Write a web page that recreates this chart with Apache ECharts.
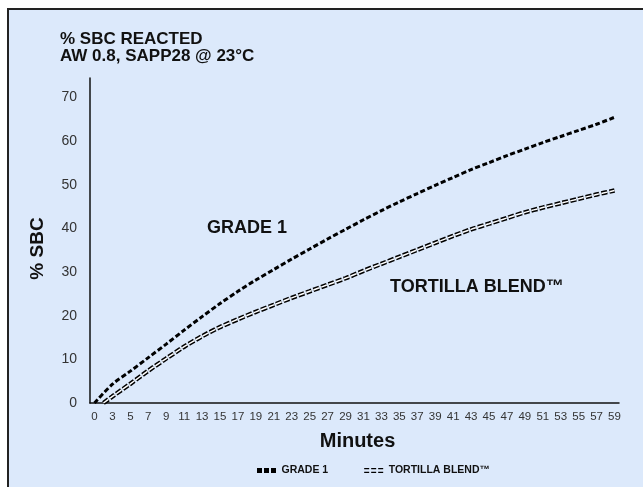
<!DOCTYPE html>
<html>
<head>
<meta charset="utf-8">
<script src="https://cdn.jsdelivr.net/npm/echarts@6/dist/echarts.min.js"></script>
<style>
  html, body { margin: 0; padding: 0; background: #fff; }
  #chart { width: 643px; height: 487px; }
</style>
</head>
<body>
<div id="chart"></div>
<script>
// minutes on the x axis (the sheet has no minute 1)
const minutes = ['0', '2', '3', '4', '5', '6', '7', '8', '9', '10', '11', '12', '13', '14', '15', '16', '17', '18', '19',
  '20', '21', '22', '23', '24', '25', '26', '27', '28', '29', '30', '31', '32', '33', '34', '35', '36', '37', '38', '39',
  '40', '41', '42', '43', '44', '45', '46', '47', '48', '49', '50', '51', '52', '53', '54', '55', '56', '57', '58', '59'];

// % SBC at the labelled minutes, null = not read
const grade1 = [0, null, 4.3, null, 7.3, null, 10.4, null, 13.5, null, 16.7, null, 19.8, null, 22.8, null, 25.6, null, 28.2,
  null, 30.6, null, 33.0, null, 35.3, null, 37.6, null, 39.8, null, 42.0, null, 44.1, null, 46.1, null, 48.0, null, 49.9,
  null, 51.7, null, 53.5, null, 55.1, null, 56.7, null, 58.2, null, 59.7, null, 61.1, null, 62.5, null, 63.9, null, 65.5];
const tortilla = [null, 0, 1.5, null, 4.4, null, 7.4, null, 10.2, null, 12.9, null, 15.3, null, 17.4, null, 19.2, null, 20.9,
  null, 22.5, null, 24.1, null, 25.6, null, 27.1, null, 28.6, null, 30.3, null, 31.9, null, 33.5, null, 35.1, null, 36.7,
  null, 38.3, null, 39.8, null, 41.1, null, 42.4, null, 43.7, null, 44.8, null, 45.8, null, 46.8, null, 47.8, null, 48.7];

const font = 'Liberation Sans, Arial, Helvetica, sans-serif';

let myChart = echarts.init(document.getElementById('chart'));
let option = {
  backgroundColor: '#fff',
  animation: false,
  title: {
    text: '% SBC REACTED\nAW 0.8, SAPP28 @ 23°C',
    left: 55,
    top: 26,
    textStyle: { fontFamily: font, fontSize: 17, fontWeight: 'bold', color: '#111', lineHeight: 17 }
  },
  graphic: [
    {
      type: 'rect', z: -10,
      shape: { x: 8, y: 9, width: 700, height: 600 },
      style: { fill: '#dce9fb', stroke: '#222', lineWidth: 2 }
    },
    {
      type: 'text', left: 207, top: 219,
      style: { text: 'GRADE 1', font: 'bold 18px ' + font, fill: '#111' }
    },
    {
      type: 'text', left: 390, top: 278,
      style: { text: 'TORTILLA BLEND™', font: 'bold 18px ' + font, fill: '#111' }
    }
  ],
  legend: {
    left: 252,
    top: 460,
    itemWidth: 20,
    itemHeight: 5,
    itemGap: 36,
    textStyle: { fontFamily: font, fontSize: 10.5, fontWeight: 'bold', color: '#111' },
    data: [
      { name: 'GRADE 1', icon: 'path://M0,0h5v5h-5z M7,0h5v5h-5z M14,0h5v5h-5z', itemStyle: { color: '#000', borderWidth: 0 } },
      { name: 'TORTILLA BLEND™', icon: 'path://M0,0h5v1.3h-5z M0,3.7h5v1.3h-5z M7,0h5v1.3h-5z M7,3.7h5v1.3h-5z M14,0h5v1.3h-5z M14,3.7h5v1.3h-5z', itemStyle: { color: '#000', borderWidth: 0 } }
    ]
  },
  grid: { left: 90, right: 24, top: 78, bottom: 84 },
  xAxis: {
    type: 'category',
    data: minutes,
    boundaryGap: true,
    name: 'Minutes',
    nameLocation: 'middle',
    nameGap: 28,
    nameTextStyle: { fontFamily: font, fontSize: 20, fontWeight: 'bold', color: '#111', padding: [0, 0, 0, 6] },
    axisLine: { lineStyle: { color: '#111', width: 1.5 } },
    axisTick: { show: false },
    axisLabel: { interval: 1, margin: 8, fontFamily: font, fontSize: 11.5, color: '#333' }
  },
  yAxis: {
    type: 'value',
    min: 0,
    max: 74.5,
    interval: 10,
    name: '% SBC',
    nameLocation: 'middle',
    nameGap: 43,
    nameTextStyle: { fontFamily: font, fontSize: 19, fontWeight: 'bold', color: '#111', padding: [0, 16, 0, 0] },
    axisLine: { show: true, lineStyle: { color: '#111', width: 1.5 } },
    axisTick: { show: false },
    splitLine: { show: false },
    axisLabel: {
      margin: 13, fontFamily: font, fontSize: 14, color: '#333',
      formatter: function (v) { return v % 10 === 0 ? String(v) : ''; }
    }
  },
  series: [
    {
      name: 'GRADE 1',
      type: 'line',
      data: grade1,
      connectNulls: true,
      smooth: 0.3,
      showSymbol: false,
      itemStyle: { color: '#000' },
      lineStyle: { color: '#000', width: 3, type: [5, 2.5] },
      z: 3
    },
    {
      name: 'TORTILLA BLEND™',
      type: 'line',
      data: tortilla,
      connectNulls: true,
      smooth: 0.3,
      showSymbol: false,
      itemStyle: { color: '#000' },
      lineStyle: { color: '#000', width: 4.5, type: [6, 2] },
      z: 3
    },
    {
      name: 'tortilla inner',
      type: 'line',
      data: tortilla,
      connectNulls: true,
      smooth: 0.3,
      showSymbol: false,
      itemStyle: { color: '#fff' },
      lineStyle: { color: '#fff', width: 1.5, type: [6, 2] },
      z: 4
    }
  ]
};
myChart.setOption(option);
</script>
</body>
</html>
